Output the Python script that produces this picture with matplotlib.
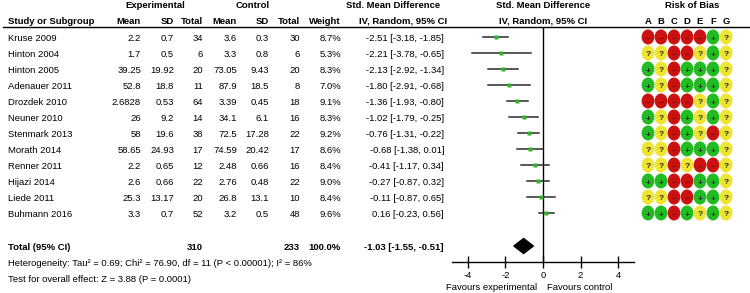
import matplotlib
matplotlib.use("Agg")
import matplotlib.pyplot as plt
from matplotlib.patches import Ellipse

plt.rcParams['font.family'] = ['Liberation Sans', 'DejaVu Sans']

# Dados do forest plot
studies = ["Kruse 2009", "Hinton 2004", "Hinton 2005", "Adenauer 2011", "Drozdek 2010",
           "Neuner 2010", "Stenmark 2013", "Morath 2014", "Renner 2011", "Hijazi 2014",
           "Liede 2011", "Buhmann 2016"]
exp_mean = ["2.2", "1.7", "39.25", "52.8", "2.6828", "26", "58", "58.65", "2.2", "2.6", "25.3", "3.3"]
exp_sd = ["0.7", "0.5", "19.92", "18.8", "0.53", "9.2", "19.6", "24.93", "0.65", "0.66", "13.17", "0.7"]
exp_n = [34, 6, 20, 11, 64, 14, 38, 17, 12, 22, 20, 52]
ctl_mean = ["3.6", "3.3", "73.05", "87.9", "3.39", "34.1", "72.5", "74.59", "2.48", "2.76", "26.8", "3.2"]
ctl_sd = ["0.3", "0.8", "9.43", "18.5", "0.45", "6.1", "17.28", "20.42", "0.66", "0.48", "13.1", "0.5"]
ctl_n = [30, 6, 20, 8, 18, 16, 22, 17, 16, 22, 10, 48]
weight = [8.7, 5.3, 8.3, 7.0, 9.1, 8.3, 9.2, 8.6, 8.4, 9.0, 8.4, 9.6]
smd = [-2.51, -2.21, -2.13, -1.80, -1.36, -1.02, -0.76, -0.68, -0.41, -0.27, -0.11, 0.16]
ci_lo = [-3.18, -3.78, -2.92, -2.91, -1.93, -1.79, -1.31, -1.38, -1.17, -0.87, -0.87, -0.23]
ci_hi = [-1.85, -0.65, -1.34, -0.68, -0.80, -0.25, -0.22, 0.01, 0.34, 0.32, 0.65, 0.56]

total_exp = 310
total_ctl = 233
total_smd = -1.03
total_lo = -1.55
total_hi = -0.51

# Risco de viés (A-G): + baixo, - alto, ? incerto
rob_domains = ["A", "B", "C", "D", "E", "F", "G"]
rob = ["-----+?", "??--?+?", "+?-+++?", "+?-+++?", "----?+?", "+?-+?+?",
       "+?-+?-?", "??-+++?", "??-?--?", "++--++?", "??--++?", "++-+?+?"]

ticks = [-4, -2, 0, 2, 4]

# Figura
fig = plt.figure(figsize=(7.5, 2.93), dpi=100)
ax = fig.add_axes([0, 0, 1, 1])
ax.set_xlim(0, 750)
ax.set_ylim(293, 0)
ax.axis("off")

fs = 6.8
row_y = [38.5 + 16 * i for i in range(len(studies))]
y_total = 247
y_h1 = 5
y_h2 = 21

# Cabeçalhos
ax.text(155, y_h1, "Experimental", fontsize=fs, weight="bold", ha="center", va="center")
ax.text(253, y_h1, "Control", fontsize=fs, weight="bold", ha="center", va="center")
ax.text(393, y_h1, "Std. Mean Difference", fontsize=fs, weight="bold", ha="center", va="center")
ax.text(543, y_h1, "Std. Mean Difference", fontsize=fs, weight="bold", ha="center", va="center")
ax.text(692, y_h1, "Risk of Bias", fontsize=fs, weight="bold", ha="center", va="center")

ax.text(8, y_h2, "Study or Subgroup", fontsize=fs, weight="bold", ha="left", va="center")
for x, lab in [(141, "Mean"), (174, "SD"), (203, "Total"), (237, "Mean"),
               (269, "SD"), (300, "Total"), (341, "Weight")]:
    ax.text(x, y_h2, lab, fontsize=fs, weight="bold", ha="right", va="center")
ax.text(403, y_h2, "IV, Random, 95% CI", fontsize=fs, weight="bold", ha="center", va="center")
ax.text(543, y_h2, "IV, Random, 95% CI", fontsize=fs, weight="bold", ha="center", va="center")

rob_x = [648 + 13 * k for k in range(len(rob_domains))]
for x, d in zip(rob_x, rob_domains):
    ax.text(x, y_h2, d, fontsize=fs, weight="bold", ha="center", va="center")

ax.plot([3, 750], [27, 27], color="black", lw=1)

# Linhas da tabela
for i, y in enumerate(row_y):
    ax.text(8, y, studies[i], fontsize=fs, ha="left", va="center")
    ax.text(141, y, exp_mean[i], fontsize=fs, ha="right", va="center")
    ax.text(174, y, exp_sd[i], fontsize=fs, ha="right", va="center")
    ax.text(203, y, str(exp_n[i]), fontsize=fs, ha="right", va="center")
    ax.text(237, y, ctl_mean[i], fontsize=fs, ha="right", va="center")
    ax.text(269, y, ctl_sd[i], fontsize=fs, ha="right", va="center")
    ax.text(300, y, str(ctl_n[i]), fontsize=fs, ha="right", va="center")
    ax.text(341, y, "%.1f%%" % weight[i], fontsize=fs, ha="right", va="center")
    ax.text(444, y, "%.2f [%.2f, %.2f]" % (smd[i], ci_lo[i], ci_hi[i]),
            fontsize=fs, ha="right", va="center")

# Total
ax.text(8, y_total, "Total (95% CI)", fontsize=fs, weight="bold", ha="left", va="center")
ax.text(203, y_total, str(total_exp), fontsize=fs, weight="bold", ha="right", va="center")
ax.text(300, y_total, str(total_ctl), fontsize=fs, weight="bold", ha="right", va="center")
ax.text(341, y_total, "100.0%", fontsize=fs, weight="bold", ha="right", va="center")
ax.text(444, y_total, "%.2f [%.2f, %.2f]" % (total_smd, total_lo, total_hi),
        fontsize=fs, weight="bold", ha="right", va="center")

ax.text(8, 264, "Heterogeneity: Tau² = 0.69; Chi² = 76.90, df = 11 (P < 0.00001); I² = 86%",
        fontsize=fs, ha="left", va="center")
ax.text(8, 280, "Test for overall effect: Z = 3.88 (P = 0.0001)",
        fontsize=fs, ha="left", va="center")

# Risco de viés
colors = {"+": "#22bb22", "-": "#cc1111", "?": "#eee533"}
symbols = {"+": "+", "-": "\u2013", "?": "?"}
for i, y in enumerate(row_y):
    for k, c in enumerate(rob[i]):
        ax.add_patch(Ellipse((rob_x[k], y - 1.5), 12.8, 15, facecolor=colors[c], edgecolor="none"))
        ax.text(rob_x[k], y + 0.5, symbols[c], fontsize=6, weight="bold",
                ha="center", va="center", color="#222222" if c != "-" else "#661111")

# Forest plot
fax = fig.add_axes([452 / 750, (293 - 262) / 293, 182 / 750, (262 - 27) / 293])
fax.set_xlim(-4.84, 4.84)
fax.set_ylim(262, 27)
fax.patch.set_alpha(0)
for s in ["top", "left", "right"]:
    fax.spines[s].set_visible(False)
fax.spines["bottom"].set_linewidth(1)
fax.set_yticks([])
fax.set_xticks(ticks)
fax.set_xticklabels([str(t) for t in ticks], fontsize=fs)
fax.tick_params(axis="x", direction="inout", length=9, width=1, pad=2)
fax.axvline(0, color="black", lw=1)

for i, y in enumerate(row_y):
    fax.plot([ci_lo[i], ci_hi[i]], [y - 2, y - 2], color="#2a2a2a", lw=1.1)
    fax.plot(smd[i], y - 2, marker="s", ms=1.4 + weight[i] * 0.17, color="#2db52d", mec="none")

fax.fill([total_lo, total_smd, total_hi, total_smd],
         [y_total - 1, y_total - 8.5, y_total - 1, y_total + 6.5], color="black")

ax.text(537, 288, "Favours experimental", fontsize=fs, ha="right", va="center")
ax.text(547, 288, "Favours control", fontsize=fs, ha="left", va="center")

fig.savefig("out.png", dpi=100)
